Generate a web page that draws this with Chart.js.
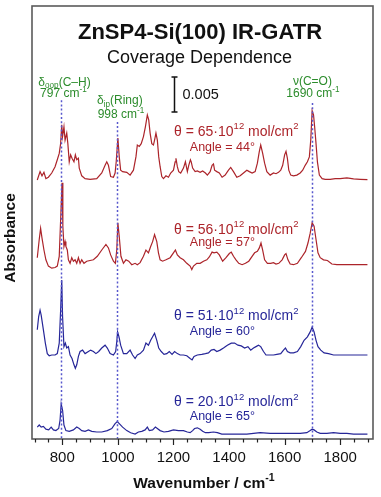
<!DOCTYPE html>
<html>
<head>
<meta charset="utf-8">
<script src="https://cdn.jsdelivr.net/npm/chart.js@4/dist/chart.umd.min.js"></script>
<style>
  html, body { margin: 0; padding: 0; background: #fff; }
  #wrap { width: 381px; height: 497px; position: relative; }
</style>
</head>
<body>
<div id="wrap"><canvas id="c"></canvas></div>
<script>
// ---- Data (absorbance in units of 1e-3, wavenumber in cm^-1) ----
const wn1 = [710,720,727,734,741,750,762,774,782,789,794,798,801,806,810,816,820,825,830,835,842,847,852,858,861,870,882,900,924,942,954,960,966,974,984,990,994,1000,1005,1010,1017,1032,1044,1056,1065,1070,1077,1084,1092,1099,1106,1111,1116,1122,1128,1132,1137,1142,1147,1152,1158,1164,1173,1182,1190,1200,1206,1209,1214,1219,1226,1236,1243,1250,1255,1261,1264,1269,1278,1286,1296,1305,1315,1322,1332,1339,1344,1348,1356,1365,1375,1386,1398,1406,1416,1428,1440,1452,1464,1473,1483,1494,1502,1509,1514,1521,1528,1536,1548,1560,1569,1578,1586,1593,1600,1605,1610,1615,1622,1632,1644,1656,1665,1674,1682,1689,1694,1699,1704,1708,1713,1718,1725,1735,1746,1764,1782,1800,1824,1848,1872,1898];
const abs1 = [-0.1,1.1,0.5,1.0,0.1,0.3,0.9,1.8,2.8,3.7,5.1,7.8,6.1,7.5,5.6,6.6,5.1,2.5,3.5,3.0,2.5,3.5,2.8,3.0,1.6,0.5,0.1,0,0.1,0.9,2.0,2.5,2.0,0.4,0.3,0.9,2.5,5.9,3.2,1.3,1.1,1.0,0.6,1.3,3.2,4.9,4.7,5.1,6.1,7.5,9.2,8.5,6.6,5.1,4.9,5.6,6.6,5.6,3.2,1.8,0.4,0.1,0.5,0.3,0.9,1.3,2.5,3.0,1.8,1.1,0.9,1.6,2.5,1.1,2.0,2.8,2.5,1.6,1.1,1.2,1.0,1.2,0.9,0.6,1.1,2.0,2.2,1.3,1.1,0.9,0.3,0.6,1.3,1.7,1.1,0.3,0.5,0.9,1.3,1.1,0.9,1.1,2.3,4.0,4.9,3.7,2.3,1.1,0.6,0.9,0.8,1.0,1.3,2.0,3.5,4.0,3.0,1.3,0.6,0.5,0.6,0.9,1.3,2.0,2.5,3.2,5.6,9.8,9.2,7.5,5.1,2.5,0.6,0.1,0,0,0.1,0.1,0.2,0.05,0,-0.05];

const wn2 = [710,717,722,727,734,741,750,762,774,782,789,794,799,802,806,810,813,818,822,828,834,840,846,852,858,864,870,878,888,900,912,926,942,957,966,974,984,991,996,1000,1005,1011,1020,1029,1039,1050,1062,1070,1080,1092,1101,1110,1118,1125,1132,1140,1146,1152,1161,1173,1188,1200,1207,1214,1224,1236,1248,1260,1266,1272,1284,1296,1308,1320,1329,1339,1346,1356,1365,1377,1389,1401,1408,1416,1425,1435,1447,1459,1471,1483,1492,1502,1509,1515,1521,1528,1538,1550,1560,1569,1579,1591,1600,1605,1612,1620,1632,1646,1660,1675,1684,1692,1699,1706,1713,1720,1728,1740,1754,1770,1788,1812,1836,1860,1898];
const abs2 = [1.0,3.6,5.2,3.8,2.1,0.7,-0.2,-0.5,-0.4,-0.2,1.2,6.4,11.7,5.5,2.6,3.3,2.6,2.1,0.7,0.2,1.0,0.5,0.7,0.2,1.0,0.2,0.7,0.2,0.5,0.6,0.7,1.2,2.1,2.9,2.4,1.4,0.5,0.2,2.1,6.0,4.0,1.2,0.2,0.7,0.5,0,0.2,0,0.3,1.2,2.1,1.7,2.6,3.3,4.3,3.3,1.7,0.7,0.5,0.7,1.0,1.7,2.1,1.4,1.0,0.7,0.2,-0.2,-0.7,-0.2,0.2,0.2,0.5,0.7,1.1,1.8,1.7,1.8,1.4,0.5,1.0,1.6,1.8,1.2,0.7,0.2,0,0.2,0.5,1.2,1.7,1.9,2.4,3.1,2.1,0.7,0.2,0.2,0.3,0.1,0.2,0.7,1.4,1.6,0.7,0.1,0,0.2,1.0,1.9,3.1,4.5,6.0,5.5,3.6,1.7,1.0,0.7,0.6,0.1,0,0,0,0,0];

const wn3 = [710,715,720,724,732,739,746,753,762,774,782,789,794,798,801,806,811,816,822,828,835,842,847,852,858,864,873,882,894,902,912,921,931,942,954,962,972,984,992,996,999,1004,1010,1020,1032,1044,1053,1062,1070,1080,1092,1101,1110,1118,1125,1132,1140,1147,1156,1166,1176,1185,1195,1204,1214,1224,1236,1248,1260,1267,1274,1286,1302,1315,1326,1336,1346,1356,1368,1380,1394,1408,1420,1432,1444,1456,1468,1478,1488,1497,1506,1514,1524,1533,1545,1560,1572,1586,1596,1603,1610,1620,1632,1646,1658,1670,1682,1692,1699,1706,1713,1720,1730,1742,1758,1776,1800,1824,1848,1872,1898];
const abs3 = [3.6,5.5,6.4,5.7,3.6,1.7,0.2,-0.1,0,0,0.2,1.7,6.4,10.7,5.5,1.2,1.7,1.0,1.2,0,-0.5,-1.4,-1.9,-1.4,-0.2,0.5,0.7,0.2,0.5,0.7,0.5,0.2,0.5,1.0,1.4,1.0,0.2,0,0.5,1.9,3.3,2.6,1.4,0.2,0.2,0.7,0,-0.5,0,0.2,0.7,1.7,1.4,2.1,2.6,3.1,2.1,1.0,0.5,0.1,0.2,0.5,0.1,0.5,0.2,0,0,-0.1,-0.5,-0.7,-0.2,0,0.1,0.2,0.3,0.7,0.8,0.5,0.7,1.0,1.4,1.7,1.7,1.4,1.3,1.0,1.2,0.7,1.0,1.2,1.4,1.2,0.5,0,0,0,0.1,0.2,0.7,1.0,0.5,0.3,0.3,0.5,1.2,2.1,2.6,3.3,4.0,3.3,2.1,1.2,0.7,0.3,0.2,0,0,0,0,0,0];

const wn4 = [710,717,724,732,741,751,760,768,777,787,792,796,801,806,813,825,840,852,861,870,882,894,906,924,942,962,978,990,998,1005,1017,1032,1046,1062,1074,1086,1098,1106,1113,1125,1135,1142,1152,1166,1182,1200,1218,1236,1250,1260,1269,1276,1286,1296,1305,1315,1327,1344,1358,1374,1392,1428,1464,1488,1512,1548,1584,1608,1632,1656,1680,1692,1699,1706,1716,1728,1752,1776,1800,1824,1848,1872,1898];
const abs4 = [0.9,1.2,0.9,1.0,0.6,0.5,0.9,0.5,0.4,0.7,1.9,4.2,3.3,1.2,0.4,0.3,0.5,0.9,0.7,0.4,0.3,0.5,0.3,0.2,0.2,0.4,0.7,1.4,1.7,1.4,0.9,0.4,0.1,-0.1,0.2,0.3,0.5,0.9,0.4,0.5,0.9,0.7,0.4,0.2,0.3,0.5,0.4,0.4,0.2,0.1,0.4,0.7,0.8,0.6,0.3,0.1,0.1,0.2,0.1,-0.1,-0.1,-0.1,-0.1,0,0.1,0,0,0,0,0,0.1,0.4,0.6,0.5,0.2,0,0,0.1,0,0,-0.1,-0.1,-0.1];

// stacking offsets (1e-3 absorbance) for each spectrum
const offsets = [37.1, 24.9, 12.0, 0.8];
const coverages = ['65', '56', '51', '20'];
const angles = ['44', '57', '60', '65'];

// axis ticks
const tickValues = [700,750,800,850,900,950,1000,1050,1100,1150,1200,1250,1300,1350,1400,1450,1500,1550,1600,1650,1700,1750,1800,1850,1900];
const tickLabels = [800,1000,1200,1400,1600,1800];

// marker lines (wavenumber where the dotted line sits)
const markerWn = [797, 998, 1697];
const markerTop = [48.4, 45.3, 48.0];

// ---- styling ----
const FAM = '"Liberation Sans", Arial, Helvetica, sans-serif';
const RED = 'rgb(172,36,42)';
const BLUE = 'rgb(38,38,152)';
const GREEN = 'rgb(44,140,44)';
const DOT = 'rgb(88,88,205)';
const colors = [RED, RED, BLUE, BLUE];

const spectra = [[wn1, abs1], [wn2, abs2], [wn3, abs3], [wn4, abs4]];
const datasets = spectra.map(([w, a], i) => ({
  data: w.map((v, k) => ({ x: v, y: a[k] + offsets[i] })),
  borderColor: colors[i],
  borderWidth: 1.2,
  pointRadius: 0,
  tension: 0,
  fill: false
}));

function drawRich(ctx, segs, cx, cy, size, color, weight, align) {
  const f = (s, sc) => `${weight || 'normal'} ${s * sc}px ${FAM}`;
  let total = 0;
  segs.forEach(s => {
    const sc = (s.sup || s.sub) ? 0.68 : 1;
    ctx.font = f(size, sc);
    s.w = ctx.measureText(s.t).width;
    total += s.w;
  });
  let x = align === 'left' ? cx : cx - total / 2;
  ctx.fillStyle = color;
  ctx.textBaseline = 'middle';
  ctx.textAlign = 'left';
  segs.forEach(s => {
    const sc = (s.sup || s.sub) ? 0.68 : 1;
    ctx.font = f(size, sc);
    let dy = 0;
    if (s.sup) dy = -size * 0.36;
    if (s.sub) dy = size * 0.3;
    ctx.fillText(s.t, x, cy + dy);
    x += s.w;
  });
}

const annot = {
  id: 'annot',
  afterDatasetsDraw(chart) {
    const { ctx, scales: { x, y } } = chart;
    ctx.save();
    ctx.strokeStyle = DOT;
    ctx.lineWidth = 1.5;
    ctx.setLineDash([2, 2.2]);
    markerWn.forEach((w, i) => {
      const px = Math.round(x.getPixelForValue(w)) + 0.5;
      ctx.beginPath();
      ctx.moveTo(px, y.getPixelForValue(markerTop[i]));
      ctx.lineTo(px, y.getPixelForValue(0));
      ctx.stroke();
    });
    ctx.restore();
  },
  afterDraw(chart) {
    const { ctx, chartArea: ca, scales: { x, y } } = chart;
    ctx.save();
    // frame
    ctx.strokeStyle = '#5a5a5a';
    ctx.lineWidth = 1.6;
    ctx.strokeRect(ca.left, ca.top, ca.right - ca.left, ca.bottom - ca.top);
    // tick marks
    ctx.strokeStyle = '#222';
    ctx.lineWidth = 1.2;
    tickValues.forEach(v => {
      const px = Math.round(x.getPixelForValue(v)) + 0.5;
      const len = tickLabels.includes(v) ? 6 : 3.5;
      ctx.beginPath();
      ctx.moveTo(px, ca.bottom);
      ctx.lineTo(px, ca.bottom + len);
      ctx.stroke();
    });
    const cx = (ca.left + ca.right) / 2;
    // titles
    drawRich(ctx, [{ t: 'ZnSP4-Si(100) IR-GATR' }], cx - 2.5, 33, 22, '#111', 'bold');
    drawRich(ctx, [{ t: 'Coverage Dependence' }], cx - 3, 58, 18, '#111', 'normal');
    // scale bar 0.005
    const sbx = Math.round(x.getPixelForValue(1201)) + 0.5;
    const sy0 = y.getPixelForValue(46.7), sy1 = y.getPixelForValue(51.7);
    ctx.strokeStyle = '#111';
    ctx.lineWidth = 1.5;
    ctx.beginPath();
    ctx.moveTo(sbx, sy0); ctx.lineTo(sbx, sy1);
    ctx.moveTo(sbx - 3, sy0); ctx.lineTo(sbx + 3, sy0);
    ctx.moveTo(sbx - 3, sy1); ctx.lineTo(sbx + 3, sy1);
    ctx.stroke();
    drawRich(ctx, [{ t: '0.005' }], sbx + 8, (sy0 + sy1) / 2, 14.5, '#111', 'normal', 'left');
    // band labels
    const gl = (w, v) => [x.getPixelForValue(w), y.getPixelForValue(v)];
    let p;
    p = gl(808, 50.95); drawRich(ctx, [{ t: 'δ' }, { t: 'oop', sub: true }, { t: '(C–H)' }], p[0], p[1], 12, GREEN);
    p = gl(804, 49.3); drawRich(ctx, [{ t: '797 cm' }, { t: '-1', sup: true }], p[0], p[1], 12, GREEN);
    p = gl(1007, 48.3); drawRich(ctx, [{ t: 'δ' }, { t: 'ip', sub: true }, { t: '(Ring)' }], p[0], p[1], 12, GREEN);
    p = gl(1011, 46.3); drawRich(ctx, [{ t: '998 cm' }, { t: '-1', sup: true }], p[0], p[1], 12, GREEN);
    p = gl(1700, 51.0); drawRich(ctx, [{ t: 'ν(C=O)' }], p[0], p[1], 12, GREEN);
    p = gl(1702, 49.3); drawRich(ctx, [{ t: '1690 cm' }, { t: '-1', sup: true }], p[0], p[1], 12, GREEN);
    // coverage labels
    const covPos = [[43.9, 41.7], [29.9, 28.0], [17.5, 15.3], [5.2, 3.2]];
    coverages.forEach((c, i) => {
      const col = colors[i];
      p = gl(1426, covPos[i][0]);
      drawRich(ctx, [{ t: 'θ = ' + c + '·10' }, { t: '12', sup: true }, { t: ' mol/cm' }, { t: '2', sup: true }], p[0], p[1], 14, col);
      p = gl(1376, covPos[i][1]);
      drawRich(ctx, [{ t: 'Angle = ' + angles[i] + '°' }], p[0], p[1], 12.5, col);
    });
    // axis titles
    drawRich(ctx, [{ t: 'Wavenumber / cm' }, { t: '-1', sup: true }], cx + 1.5, 484, 15.5, '#111', 'bold');
    ctx.save();
    ctx.translate(11, 238);
    ctx.rotate(-Math.PI / 2);
    drawRich(ctx, [{ t: 'Absorbance' }], 0, 0, 15.5, '#111', 'bold');
    ctx.restore();
    ctx.restore();
  }
};

new Chart(document.getElementById('c'), {
  type: 'line',
  data: { datasets },
  plugins: [annot],
  options: {
    responsive: true,
    maintainAspectRatio: false,
    animation: false,
    events: [],
    layout: { padding: { left: 32, right: 8, top: 6, bottom: 0 } },
    plugins: { legend: { display: false }, tooltip: { enabled: false }, title: { display: false } },
    scales: {
      x: {
        type: 'linear',
        min: 691, max: 1918,
        afterBuildTicks: s => { s.ticks = tickValues.map(v => ({ value: v })); },
        afterFit: s => { s.height = 58; },
        grid: { display: false, drawTicks: false },
        border: { display: false },
        ticks: {
          autoSkip: false, maxRotation: 0, padding: 10,
          color: '#111',
          font: { size: 15, family: FAM },
          callback: v => tickLabels.includes(v) ? String(v) : ''
        }
      },
      y: {
        display: false,
        min: 0, max: 61.86
      }
    }
  }
});
</script>
</body>
</html>
